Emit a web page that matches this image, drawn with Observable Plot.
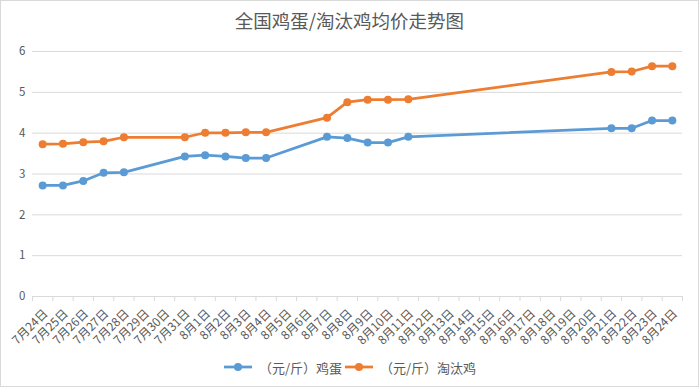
<!DOCTYPE html>
<html>
<head>
<meta charset="utf-8">
<script src="https://cdn.jsdelivr.net/npm/d3@7"></script>
<script src="https://cdn.jsdelivr.net/npm/@observablehq/plot@0.6"></script>
<style>
  body { margin: 0; background: #fff; }
  #frame { width: 697px; height: 385px; border: 1px solid #d9d9d9; position: relative; font-family: "Noto Sans CJK SC", sans-serif; overflow: hidden; }
  #title { height: 36px; line-height: 38px; text-align: center; font-size: 18.5px; color: #595959; }
  #legend { height: 36px; display: flex; justify-content: center; align-items: center; font-size: 13px; color: #595959; }
  .item { display: flex; align-items: center; margin: 0 1px; }
  .item svg { margin-right: 6px; }
</style>
</head>
<body>
<div id="frame">
  <div id="title">全国鸡蛋/淘汰鸡均价走势图</div>
  <div id="chart"></div>
  <div id="legend"></div>
</div>
<script>
const dates = ["7月24日","7月25日","7月26日","7月27日","7月28日","7月29日","7月30日","7月31日",
  "8月1日","8月2日","8月3日","8月4日","8月5日","8月6日","8月7日","8月8日","8月9日","8月10日",
  "8月11日","8月12日","8月13日","8月14日","8月15日","8月16日","8月17日","8月18日","8月19日",
  "8月20日","8月21日","8月22日","8月23日","8月24日"];
const sampleDates = ["7月24日","7月25日","7月26日","7月27日","7月28日","7月31日","8月1日","8月2日",
  "8月3日","8月4日","8月7日","8月8日","8月9日","8月10日","8月11日","8月21日","8月22日","8月23日","8月24日"];
const eggPrice = [2.72,2.72,2.83,3.03,3.04,3.43,3.46,3.43,3.39,3.39,3.91,3.88,3.77,3.77,3.91,4.12,4.12,4.31,4.31];
const henPrice = [3.73,3.74,3.78,3.80,3.90,3.90,4.01,4.01,4.02,4.02,4.38,4.76,4.82,4.82,4.83,5.50,5.51,5.64,5.64];
const seriesNames = ["（元/斤）鸡蛋", "（元/斤）淘汰鸡"];
const seriesColors = ["#5B9BD5", "#ED7D31"];
const yTicks = [0,1,2,3,4,5,6];

const rows = [];
sampleDates.forEach((d, i) => {
  rows.push({date: d, value: eggPrice[i], series: seriesNames[0]});
  rows.push({date: d, value: henPrice[i], series: seriesNames[1]});
});

const W = 697, ML = 31, MR = 16;
const bw = (W - ML - MR) / dates.length;

const chart = Plot.plot({
  width: W, height: 312,
  marginTop: 14, marginBottom: 53, marginLeft: ML, marginRight: MR,
  style: {fontFamily: '"Noto Sans CJK SC", sans-serif', color: "#595959", background: "transparent"},
  x: {type: "band", domain: dates, padding: 0, round: false},
  y: {domain: [0, 6]},
  color: {domain: seriesNames, range: seriesColors},
  marks: [
    Plot.gridY(yTicks, {stroke: "#d9d9d9", strokeOpacity: 1}),
    Plot.axisY(yTicks, {tickSize: 0, tickPadding: 7, fontSize: 11.5, fill: "#595959", label: null}),
    Plot.ruleY([0], {stroke: "#d9d9d9"}),
    Plot.axisX({tickSize: 5, tickFormat: () => "", dx: -bw / 2, stroke: "#d9d9d9", label: null}),
    Plot.ruleX([dates[dates.length - 1]], {y1: 0, y2: 0, insetBottom: -5, dx: bw / 2, stroke: "#d9d9d9"}),
    Plot.axisX({tickSize: 0, tickRotate: -45, tickPadding: 15, dx: 3, fontSize: 12, fill: "#595959", label: null}),
    Plot.line(rows, {x: "date", y: "value", z: "series", stroke: "series", strokeWidth: 2.75}),
    Plot.dot(rows, {x: "date", y: "value", fill: "series", r: 4, stroke: null})
  ]
});
document.getElementById("chart").appendChild(chart);

const legend = document.getElementById("legend");
seriesNames.forEach((name, i) => {
  const item = document.createElement("div");
  item.className = "item";
  item.innerHTML = `<svg width="30" height="10"><line x1="1" y1="5" x2="29" y2="5" stroke="${seriesColors[i]}" stroke-width="2.75"/><circle cx="15" cy="5" r="4" fill="${seriesColors[i]}"/></svg><span>${name}</span>`;
  legend.appendChild(item);
});
</script>
</body>
</html>
